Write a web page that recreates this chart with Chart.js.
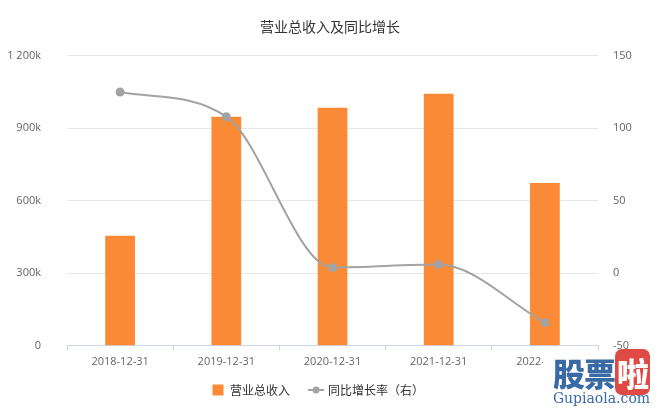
<!DOCTYPE html>
<html>
<head>
<meta charset="utf-8">
<script src="https://cdn.jsdelivr.net/npm/chart.js@4.4.0/dist/chart.umd.min.js"></script>
<style>
  html, body { margin:0; padding:0; background:#fff; }
  #wrap { position:relative; width:660px; height:412px; }
  #wm { position:absolute; left:543px; top:356px; width:117px; height:56px; background:#fff; text-align:center; line-height:1; }
  #wm .big { font-family:"Noto Sans CJK SC"; font-weight:900; font-size:32px; color:#3a6aa6; letter-spacing:-1px; }
  #wm .big span { background:#e04a44; color:#fff; border-radius:7px; padding:0 2px; }
  #wm .small { font-family:"DejaVu Serif"; font-size:14px; color:#3a6aa6; margin-top:3px; }
</style>
</head>
<body>
<div id="wrap">
  <canvas id="chart" width="660" height="412"></canvas>
  <div id="wm"><div class="big">股票<span>啦</span></div><div class="small">Gupiaola.com</div></div>
</div>
<script>
// data
const periods = ['2018-12-31','2019-12-31','2020-12-31','2021-12-31','2022-09-30'];
const revenue = [455000, 948000, 985000, 1043000, 674000];
const growth = [125, 108, 4, 6, -34];

const orange = '#fa8a35';
const gray = '#a3a3a3';
const cjk = '"Noto Sans CJK SC", "Noto Sans", sans-serif';

// legend icon for line series: short line with a dot
const lineIcon = document.createElement('canvas');
lineIcon.width = 16; lineIcon.height = 10;
(function(){
  const c = lineIcon.getContext('2d');
  c.strokeStyle = gray; c.lineWidth = 2;
  c.beginPath(); c.moveTo(0,5); c.lineTo(16,5); c.stroke();
  c.fillStyle = gray;
  c.beginPath(); c.arc(8,5,3.5,0,Math.PI*2); c.fill();
})();

function fmtK(v){
  if(v === 0) return '0';
  const k = Math.round(v/1000);
  return k.toString().replace(/\B(?=(\d{3})+(?!\d))/g, ' ') + 'k';
}

// legend sits a bit left of centre in the original
const legendShift = {
  id:'legendShift',
  afterLayout(chart){
    const l = chart.legend;
    l.left -= 12; l.right -= 12;
  }
};

const ctx = document.getElementById('chart');

new Chart(ctx, {
  data: {
    labels: periods,
    datasets: [
      {
        type:'line',
        label:'同比增长率（右）',
        data: growth,
        yAxisID:'y1',
        borderColor: gray,
        backgroundColor: gray,
        borderWidth: 2,
        pointRadius: 4.5,
        pointBackgroundColor: gray,
        pointBorderWidth: 0,
        cubicInterpolationMode:'monotone',
        order: 0
      },
      {
        type:'bar',
        label:'营业总收入',
        data: revenue,
        yAxisID:'y',
        backgroundColor: orange,
        categoryPercentage: 1,
        barPercentage: 0.28,
        order: 1
      }
    ]
  },
  plugins:[legendShift],
  options: {
    responsive:false,
    animation:false,
    layout:{ padding:{ top:0, bottom:6, left:0, right:0 } },
    plugins:{
      title:{
        display:true,
        text:'营业总收入及同比增长',
        color:'#333',
        font:{ family:cjk, size:14, weight:'normal' },
        padding:{ top:18, bottom:21 }
      },
      legend:{
        position:'bottom',
        reverse:true,
        labels:{
          color:'#333',
          font:{ family:cjk, size:12 },
          usePointStyle:true,
          boxHeight:11,
          padding:12,
          generateLabels(chart){
            const ds = chart.data.datasets;
            return [
              { text: ds[0].label, fillStyle: gray, strokeStyle: gray, lineWidth:0, pointStyle: lineIcon, datasetIndex:0, fontColor:'#333' },
              { text: ds[1].label + '   ', fillStyle: orange, strokeStyle: orange, lineWidth:0, pointStyle:'rect', datasetIndex:1, fontColor:'#333' }
            ];
          }
        }
      },
      tooltip:{ enabled:false }
    },
    scales:{
      x:{
        offset:true,
        grid:{ offset:true, drawOnChartArea:false, drawTicks:true, tickLength:5, color:'#ccd6eb' },
        border:{ display:true, color:'#ccd6eb' },
        ticks:{ color:'#666', font:{ family:'"Open Sans", sans-serif', size:11 }, maxRotation:0, padding:4 }
      },
      y:{
        position:'left',
        min:0, max:1200000,
        afterFit(s){ s.width = 67; },
        grid:{ color:'#e6e6e6', drawTicks:false },
        border:{ display:false },
        ticks:{ stepSize:300000, color:'#666', padding:26, font:{ family:'"Open Sans", sans-serif', size:11 }, callback:v => fmtK(v) }
      },
      y1:{
        position:'right',
        min:-50, max:150,
        afterFit(s){ s.width = 62; },
        grid:{ display:false, drawTicks:false },
        border:{ display:false },
        ticks:{ stepSize:50, color:'#666', padding:15, font:{ family:'"Open Sans", sans-serif', size:11 } }
      }
    }
  }
});
</script>
</body>
</html>
